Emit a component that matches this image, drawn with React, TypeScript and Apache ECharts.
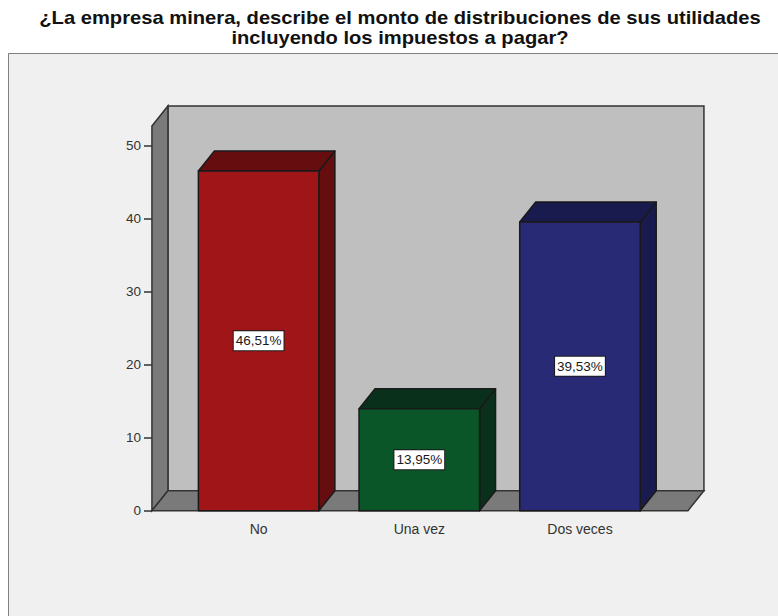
import React, { useEffect, useRef } from "react";
import * as echarts from "echarts";

const titleLines = [
  "¿La empresa minera, describe el monto de distribuciones de sus utilidades",
  "incluyendo los impuestos a pagar?",
];
const categories = ["No", "Una vez", "Dos veces"];
const percents = [46.51, 13.95, 39.53];
const frontColors = ["#A01518", "#0B5629", "#282A75"];
const sideColors = ["#660D10", "#08301B", "#191A4E"];

const FONT = "'Liberation Sans', Arial, sans-serif";
const EDGE = "#1a1a1a";
const DEPTH_X = 16;
const DEPTH_Y = 20;

export default function App() {
  const ref = useRef<HTMLDivElement>(null);

  useEffect(() => {
    document.body.style.margin = "0";
    const chart = echarts.init(ref.current!, null, { renderer: "svg" });

    const renderFrame = (_: any, api: any) => {
      const [cx, y0] = api.coord([0, 0]);
      const yTop = api.coord([0, 50])[1] - 19.5;
      const left = cx - 106.7;
      const right = left + 536;
      const shape = { stroke: "#333333", lineWidth: 1.5 };
      return {
        type: "group",
        children: [
          {
            type: "rect",
            shape: { x: left + DEPTH_X, y: yTop - DEPTH_Y, width: right - left, height: y0 - yTop },
            style: { fill: "#BFBFBF", ...shape },
          },
          {
            type: "polygon",
            shape: { points: [[left, yTop], [left + DEPTH_X, yTop - DEPTH_Y], [left + DEPTH_X, y0 - DEPTH_Y], [left, y0]] },
            style: { fill: "#7A7A7A", ...shape },
          },
          {
            type: "polygon",
            shape: { points: [[left, y0], [left + DEPTH_X, y0 - DEPTH_Y], [right + DEPTH_X, y0 - DEPTH_Y], [right, y0]] },
            style: { fill: "#7A7A7A", ...shape },
          },
        ],
      };
    };

    const renderBar = (params: any, api: any) => {
      const i = api.value(0);
      const v = api.value(1);
      const [cx, yV] = api.coord([i, v]);
      const y0 = api.coord([i, 0])[1];
      const w = api.size([1, 0])[0] * 0.75;
      const l = cx - w / 2;
      const r = cx + w / 2;
      const line = { stroke: EDGE, lineWidth: 1.5, lineJoin: "round" };
      return {
        type: "group",
        children: [
          {
            type: "polygon",
            shape: { points: [[r, yV], [r + DEPTH_X, yV - DEPTH_Y], [r + DEPTH_X, y0 - DEPTH_Y], [r, y0]] },
            style: { fill: sideColors[i], ...line },
          },
          {
            type: "polygon",
            shape: { points: [[l, yV], [l + DEPTH_X, yV - DEPTH_Y], [r + DEPTH_X, yV - DEPTH_Y], [r, yV]] },
            style: { fill: sideColors[i], ...line },
          },
          {
            type: "rect",
            shape: { x: l, y: yV, width: w, height: y0 - yV },
            style: { fill: frontColors[i], ...line },
          },
          {
            type: "text",
            x: cx,
            y: (yV + y0) / 2,
            style: {
              text: v.toFixed(2).replace(".", ",") + "%",
              align: "center",
              verticalAlign: "middle",
              font: `13.5px ${FONT}`,
              fill: "#1a1a1a",
              backgroundColor: "#FFFFFF",
              borderColor: "#1a1a1a",
              borderWidth: 1,
              padding: [3, 2, 2, 2],
            },
          },
        ],
      };
    };

    chart.setOption({
      animation: false,
      backgroundColor: "#FFFFFF",
      graphic: [
        {
          type: "rect",
          z: -10,
          shape: { x: 8.5, y: 53.5, width: 790, height: 590 },
          style: { fill: "#F0F0F0", stroke: "#808080", lineWidth: 1 },
        },
        ...titleLines.map((text, i) => ({
          type: "text",
          x: 400,
          y: 18 + i * 20,
          scaleX: 1.12,
          style: {
            text,
            align: "center",
            verticalAlign: "middle",
            font: `bold 18px ${FONT}`,
            fill: "#111111",
          },
        })),
      ],
      grid: { left: 178.3, width: 482, top: 145.5, height: 365.2 },
      xAxis: {
        type: "category",
        data: categories,
        axisLine: { show: false },
        axisTick: { alignWithLabel: true, length: 8, lineStyle: { color: "#333333", width: 1.5 } },
        axisLabel: { margin: 11, fontFamily: FONT, fontSize: 14, color: "#333333" },
      },
      yAxis: {
        type: "value",
        min: 0,
        max: 50,
        interval: 10,
        offset: 26.3,
        splitLine: { show: false },
        axisLine: { show: false },
        axisTick: { show: true, length: 8, lineStyle: { color: "#333333", width: 1.5 } },
        axisLabel: { margin: 11, fontFamily: FONT, fontSize: 13.5, color: "#333333" },
      },
      series: [
        {
          type: "custom",
          z: 1,
          silent: true,
          renderItem: renderFrame,
          data: [[0, 0]],
          encode: { x: 0, y: 1 },
        },
        {
          type: "custom",
          z: 2,
          renderItem: renderBar,
          data: percents.map((v, i) => [i, v]),
          encode: { x: 0, y: 1 },
        },
      ],
    });

    return () => chart.dispose();
  }, []);

  return <div ref={ref} style={{ width: 778, height: 616 }} />;
}
